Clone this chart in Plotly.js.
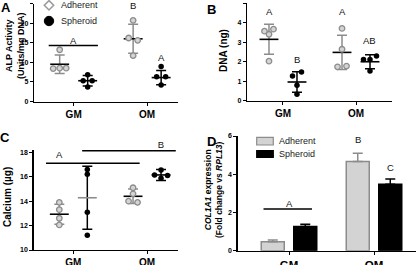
<!DOCTYPE html>
<html><head><meta charset="utf-8">
<script src="https://cdn.plot.ly/plotly-3.0.1.min.js"></script>
<style>html,body{margin:0;padding:0;background:#fff}#chart{width:418px;height:265px}</style>
</head><body><div id="chart"></div>
<script>
// ---------------- data ----------------
const categories = ['GM', 'OM'];
const seriesNames = ['Adherent', 'Spheroid'];

// A: ALP activity (Units/mg DNA)
const alpAdherentGM = [13.2, 8.4, 8.5, 8.5];
const alpAdherentOM = [20.7, 11.7, 16.2, 15.6];
const alpSpheroidGM = [6.8, 3.7, 5.3, 5.3];
const alpSpheroidOM = [8.9, 4.2, 6.3, 6.3];
const alpAdherentMean = [9.5, 16.0];
const alpAdherentSD = [2.35, 3.7];
const alpSpheroidMean = [5.3, 6.1];
const alpSpheroidSD = [1.35, 1.8];

// B: DNA (ng)
const dnaAdherentGM = [3.57, 3.41, 3.67, 2.03];
const dnaAdherentOM = [3.71, 2.64, 1.74, 1.78];
const dnaSpheroidGM = [1.27, 1.47, 0.79, 0.33];
const dnaSpheroidOM = [2.12, 2.12, 2.29, 1.52];
const dnaAdherentMean = [3.15, 2.48];
const dnaAdherentSD = [0.77, 0.88];
const dnaSpheroidMean = [0.96, 2.0];
const dnaSpheroidSD = [0.52, 0.36];

// C: Calcium (ug)
const caAdherentGM = [13.9, 13.3, 12.6, 12.05];
const caAdherentOM = [15.1, 14.6, 14.0, 13.9];
const caSpheroidGM = [16.6, 16.2, 13.1, 11.2];
const caSpheroidOM = [16.56, 16.15, 15.87, 16.1];
const caAdherentMean = [12.93, 14.4];
const caAdherentSD = [0.82, 0.6];
const caSpheroidMean = [14.28, 16.15];
const caSpheroidSD = [2.58, 0.45];

// D: COL1A1 expression (fold change vs RPL13)
const colAdherent = [0.47, 4.66];
const colAdherentErr = [0.09, 0.44];
const colSpheroid = [1.26, 3.48];
const colSpheroidErr = [0.12, 0.27];

// significance letters (text, x, y centre) and bars (x0, x1, y), in data coordinates
const sigLetters = {
  A: [['A', 1, 15.5], ['B', 1.81, 24.4], ['A', 2.19, 11.35]],
  B: [['A', 0.81, 4.57], ['B', 1.19, 2.12], ['A', 1.81, 4.57], ['AB', 2.19, 3.08]],
  C: [['A', 0.81, 17.86]],
  D: [['A', 1, 2.48], ['B', 1.81, 5.83], ['C', 2.19, 4.36]]
};
// letters written just above a significance bar (text, x, bar y)
const sigLettersOnBar = {
  C: [['B', 2.19, 18.14]]
};
const sigBars = {
  A: [[0.66, 1.33, 14.3]],
  C: [[0.63, 1.90, 17.1], [1.12, 2.39, 18.14]],
  D: [[0.70, 1.27, 2.18]]
};

// ---------------- layout helpers ----------------
const W = 418, H = 265;
const FONT = 'Arial, "Liberation Sans", sans-serif';
const PX = p => p / W, PY = p => 1 - p / H;
const panels = {
  A: {ax: '', xd: [34, 178], yd: [3.5, 101.5], xr: [0.46, 2.42], yr: [0, 25], dt: 5, t0: 0, xf: 10},
  B: {ax: '2', xd: [247, 392], yd: [3.3, 100.7], xr: [0.507, 2.493], yr: [0, 5], dt: 1, t0: 0, xf: 10},
  C: {ax: '3', xd: [33.5, 178], yd: [149.9, 250], xr: [0.46, 2.42], yr: [10, 18.2], dt: 2, t0: 10, xf: 10},
  D: {ax: '4', xd: [237.5, 416], yd: [136, 250.7], xr: [0.394, 2.494], yr: [0, 6], dt: 2, t0: 0, xf: 11.5}
};
const GRAY = '#8c8c8c';

function scales(p) {
  return {
    sx: (p.xd[1] - p.xd[0]) / (p.xr[1] - p.xr[0]),
    sy: (p.yd[1] - p.yd[0]) / (p.yr[1] - p.yr[0])
  };
}

// deterministic little beeswarm: points at nearly the same height are spread sideways
function swarm(vals, sy) {
  const thr = 4, step = 6.5, pairOff = 4.5;
  const idx = vals.map((v, i) => i).sort((a, b) => vals[b] - vals[a]);
  const rows = []; let cur = null;
  idx.forEach(i => {
    if (cur && (vals[cur.anchor] - vals[i]) * sy < thr) cur.m.push(i);
    else { cur = {anchor: i, m: [i]}; rows.push(cur); }
  });
  const off = vals.map(() => 0);
  rows.forEach(r => {
    const m = r.m.slice().sort((a, b) => a - b), n = m.length;
    m.forEach((i, k) => { off[i] = n === 2 ? (k === 0 ? -pairOff : pairOff) : (k - (n - 1) / 2) * step; });
  });
  return off;
}

const traces = [];
function dotPanel(key, groups, means, sds, meanColors) {
  const p = panels[key], s = scales(p);
  const xa = 'x' + p.ax, ya = 'y' + p.ax;
  const gOff = 14 / s.sx;
  [0, 1].forEach(si => {
    const off = si === 0 ? -gOff : gOff;
    const errCol = si === 0 ? GRAY : '#000';
    traces.push({
      type: 'scatter', mode: 'markers', xaxis: xa, yaxis: ya,
      x: categories.map((c, ci) => ci + 1 + off), y: means[si],
      marker: {symbol: 'line-ew', size: 13.5, color: '#000', line: {width: 1.6, color: meanColors[si]}},
      error_y: {type: 'data', array: sds[si], visible: true, color: errCol, thickness: 1.5, width: 5},
      hoverinfo: 'skip', showlegend: false, cliponaxis: false
    });
  });
  [0, 1].forEach(si => {
    const off = si === 0 ? -gOff : gOff;
    categories.forEach((c, ci) => {
      const vals = groups[si][ci];
      const dx = swarm(vals, s.sy);
      traces.push({
        type: 'scatter', mode: 'markers', xaxis: xa, yaxis: ya,
        x: vals.map((v, i) => ci + 1 + off + dx[i] / s.sx), y: vals,
        marker: si === 0
          ? {symbol: 'circle', size: 5.5, color: '#d4d4d4', line: {width: 1.3, color: GRAY}}
          : {symbol: 'circle', size: 5.5, color: '#000', line: {width: 0}},
        hoverinfo: 'skip', showlegend: false, cliponaxis: false
      });
    });
  });
}

dotPanel('A', [[alpAdherentGM, alpAdherentOM], [alpSpheroidGM, alpSpheroidOM]],
  [alpAdherentMean, alpSpheroidMean], [alpAdherentSD, alpSpheroidSD], [['#000', '#000'], ['#000', '#000']]);
dotPanel('B', [[dnaAdherentGM, dnaAdherentOM], [dnaSpheroidGM, dnaSpheroidOM]],
  [dnaAdherentMean, dnaSpheroidMean], [dnaAdherentSD, dnaSpheroidSD], [['#000', '#000'], ['#000', '#000']]);
dotPanel('C', [[caAdherentGM, caAdherentOM], [caSpheroidGM, caSpheroidOM]],
  [caAdherentMean, caSpheroidMean], [caAdherentSD, caSpheroidSD], [['#000', '#000'], [GRAY, '#000']]);

// D bars
traces.push({
  type: 'bar', name: seriesNames[0], x: [1, 2], y: colAdherent, xaxis: 'x4', yaxis: 'y4',
  marker: {color: '#d3d3d3', line: {color: GRAY, width: 1.5}},
  error_y: {type: 'data', symmetric: false, array: colAdherentErr, arrayminus: [0, 0], color: GRAY, thickness: 1.5, width: 5},
  hoverinfo: 'skip', showlegend: false
});
traces.push({
  type: 'bar', name: seriesNames[1], x: [1, 2], y: colSpheroid, xaxis: 'x4', yaxis: 'y4',
  marker: {color: '#000', line: {color: '#000', width: 1.5}},
  error_y: {type: 'data', symmetric: false, array: colSpheroidErr, arrayminus: [0, 0], color: '#000', thickness: 1.5, width: 5},
  hoverinfo: 'skip', showlegend: false
});

// significance bars
Object.keys(sigBars).forEach(k => {
  const p = panels[k];
  sigBars[k].forEach(b => traces.push({
    type: 'scatter', mode: 'lines', xaxis: 'x' + p.ax, yaxis: 'y' + p.ax,
    x: [b[0], b[1]], y: [b[2], b[2]], line: {color: '#000', width: 1.5},
    hoverinfo: 'skip', showlegend: false
  }));
});
// letters sitting on top of a bar: text trace anchored on the bar (inside the range), drawn above it
Object.keys(sigLettersOnBar).forEach(k => {
  const p = panels[k], L = sigLettersOnBar[k];
  traces.push({
    type: 'scatter', mode: 'text', xaxis: 'x' + p.ax, yaxis: 'y' + p.ax,
    x: L.map(l => l[1]), y: L.map(l => l[2]), text: L.map(l => l[0]),
    textposition: 'top center', textfont: {family: FONT, size: 9.5, color: '#111'},
    cliponaxis: false, hoverinfo: 'skip', showlegend: false
  });
});

const layout = {
  width: W, height: H, margin: {l: 0, r: 0, t: 0, b: 0},
  paper_bgcolor: '#fff', plot_bgcolor: '#fff', showlegend: false,
  font: {family: FONT, color: '#000'},
  barmode: 'group', bargap: 0.235, bargroupgap: 0.293,
  annotations: [], shapes: []
};
Object.keys(panels).forEach(k => {
  const p = panels[k];
  layout['xaxis' + p.ax] = {
    domain: [PX(p.xd[0]), PX(p.xd[1])], range: p.xr, anchor: 'y' + p.ax,
    tickvals: [1, 2], ticktext: categories, ticks: 'outside', ticklen: 3, tickwidth: 1, tickcolor: '#000',
    showline: true, linecolor: '#000', linewidth: 1.2, showgrid: false, zeroline: false,
    tickfont: {family: FONT, size: p.xf, weight: 700, color: '#000'}, fixedrange: true
  };
  layout['yaxis' + p.ax] = {
    domain: [PY(p.yd[1]), PY(p.yd[0])], range: p.yr, anchor: 'x' + p.ax,
    tick0: p.t0, dtick: p.dt, ticks: 'outside', ticklen: 3, tickwidth: 1, tickcolor: '#000',
    showline: true, linecolor: '#000', linewidth: 1.2, showgrid: false, zeroline: false,
    tickfont: {family: FONT, size: 7, weight: 700, color: '#000'}, fixedrange: true
  };
  (sigLetters[k] || []).forEach(l => layout.annotations.push({
    xref: 'x' + p.ax, yref: 'y' + p.ax, x: l[1], y: l[2], text: l[0], showarrow: false,
    xanchor: 'center', yanchor: 'middle', font: {family: FONT, size: 9.5, color: '#111'}
  }));
});

// panel letters
[['A', 6, 8], ['B', 211.5, 10], ['C', 4.5, 137], ['D', 211.5, 141]].forEach(l => layout.annotations.push({
  xref: 'paper', yref: 'paper', x: PX(l[1]), y: PY(l[2]), text: l[0], showarrow: false,
  xanchor: 'center', yanchor: 'middle', font: {family: FONT, size: 13, weight: 700, color: '#000'}
}));

// axis titles
[['ALP Activity<br>(Units/mg DNA)', 15, 46, 9],
 ['DNA (ng)', 224, 51, 10],
 ['Calcium (µg)', 8, 197, 10],
 ['<i>COL1A1</i> expression<br>(Fold change vs <i>RPL13</i>)', 213, 190, 8.5]].forEach(t => layout.annotations.push({
  xref: 'paper', yref: 'paper', x: PX(t[1]), y: PY(t[2]), text: t[0], showarrow: false, textangle: -90,
  xanchor: 'center', yanchor: 'middle', align: 'center',
  font: {family: FONT, size: t[3], weight: 700, color: '#000'}
}));

// legends (keys drawn as shapes, labels as text)
function legText(txt, x, y) {
  layout.annotations.push({xref: 'paper', yref: 'paper', x: PX(x), y: PY(y), text: txt, showarrow: false,
    xanchor: 'left', yanchor: 'middle', font: {family: FONT, size: 9, color: '#222'}});
}
// A legend
layout.shapes.push({type: 'path', xref: 'paper', yref: 'paper',
  path: 'M' + PX(49) + ',' + PY(0.6) + ' L' + PX(53.7) + ',' + PY(5.3) + ' L' + PX(49) + ',' + PY(10) + ' L' + PX(44.3) + ',' + PY(5.3) + ' Z',
  fillcolor: '#fff', line: {color: '#9a9a9a', width: 1.5}});
layout.shapes.push({type: 'circle', xref: 'paper', yref: 'paper',
  x0: PX(44.3), x1: PX(53.7), y0: PY(25.7), y1: PY(16.3), fillcolor: '#000', line: {color: '#000', width: 1}});
legText(seriesNames[0], 59, 5.5);
legText(seriesNames[1], 59, 21);
// D legend
layout.shapes.push({type: 'rect', xref: 'paper', yref: 'paper',
  x0: PX(256.7), x1: PX(273.3), y0: PY(145), y1: PY(137.3), fillcolor: '#d3d3d3', line: {color: GRAY, width: 1.2}});
layout.shapes.push({type: 'rect', xref: 'paper', yref: 'paper',
  x0: PX(256.7), x1: PX(273.3), y0: PY(157.3), y1: PY(150.7), fillcolor: '#000', line: {color: '#000', width: 1.2}});
legText(seriesNames[0], 276.5, 141);
legText(seriesNames[1], 276.5, 154);

Plotly.newPlot('chart', traces, layout, {staticPlot: true, displayModeBar: false});
</script>
</body></html>
